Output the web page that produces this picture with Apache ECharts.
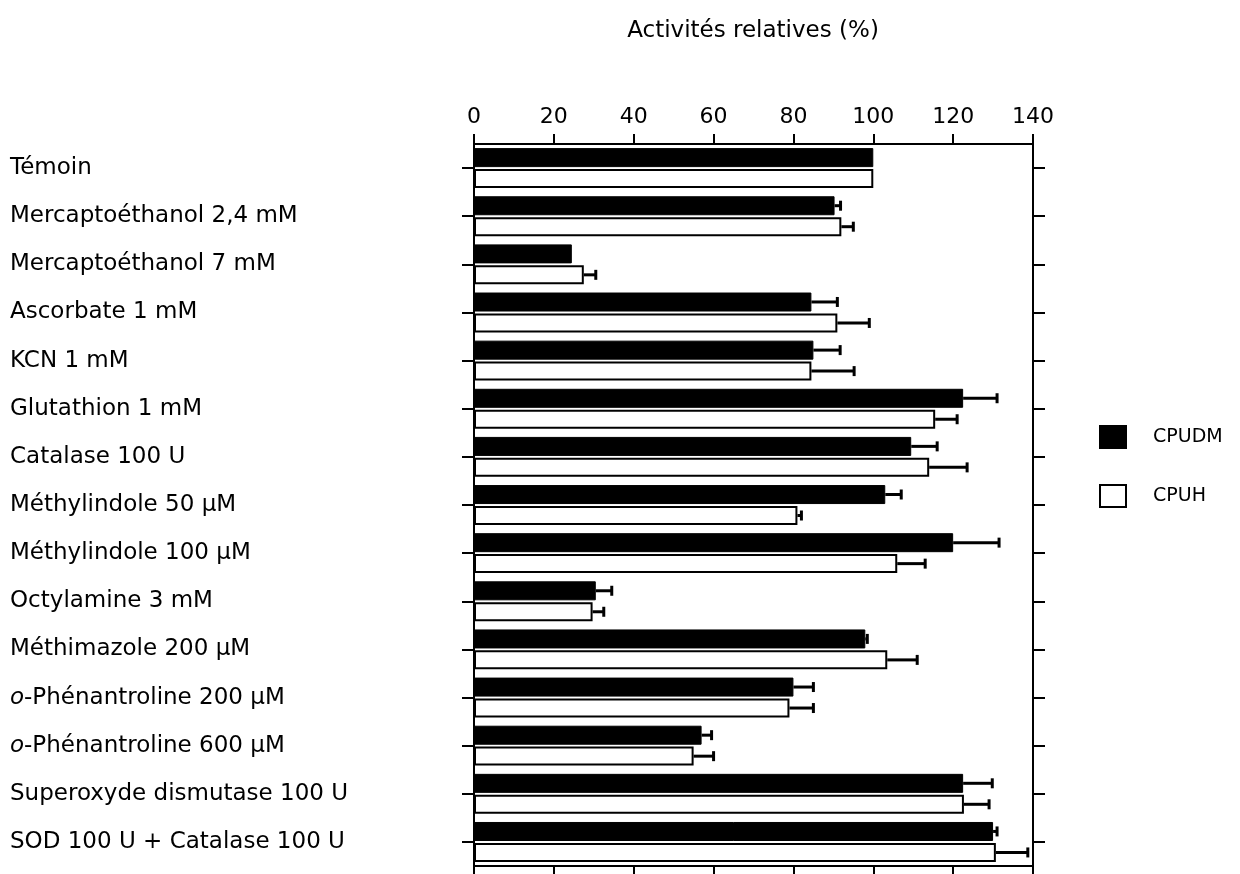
<!DOCTYPE html>
<html>
<head>
<meta charset="utf-8">
<script src="https://cdn.jsdelivr.net/npm/echarts@6/dist/echarts.min.js"></script>
<style>
html,body{margin:0;padding:0;background:#fff;}
#chart{width:1240px;height:874px;}
</style>
</head>
<body>
<div id="chart"></div>
<script>
const categories = [
  'Témoin',
  'Mercaptoéthanol 2,4 mM',
  'Mercaptoéthanol 7 mM',
  'Ascorbate 1 mM',
  'KCN 1 mM',
  'Glutathion 1 mM',
  'Catalase 100 U',
  'Méthylindole 50 µM',
  'Méthylindole 100 µM',
  'Octylamine 3 mM',
  'Méthimazole 200 µM',
  'o-Phénantroline 200 µM',
  'o-Phénantroline 600 µM',
  'Superoxyde dismutase 100 U',
  'SOD 100 U + Catalase 100 U'
];
const cpudm    = [100, 90.3, 24.5, 84.5, 85, 122.5, 109.5, 103, 120, 30.5, 98, 80, 57, 122.5, 130];
const cpudmErr = [0, 1.5, 0, 6.5, 6.7, 8.5, 6.5, 4, 11.5, 4, 0.5, 5, 2.5, 7.3, 1];
const cpuh     = [100, 92, 27.5, 91, 84.5, 115.5, 114, 81, 106, 29.7, 103.5, 79, 55, 122.7, 130.7];
const cpuhErr  = [0, 3, 3, 8, 10.7, 5.5, 9.5, 1, 7, 2.8, 7.5, 6, 5, 6.3, 8];
const xTicks = { min: 0, max: 140, interval: 20 };

const FONT = 'DejaVu Sans';
const LABEL_SIZE = 23;
const BAR_W = 19;
const BAR_GAP = 2;
const OFF = (BAR_W + BAR_GAP) / 2;

function errSeries(name, vals, errs, offset) {
  return {
    name: name,
    type: 'custom',
    xAxisIndex: 0,
    yAxisIndex: 0,
    silent: true,
    z: 5,
    data: vals.map((v, i) => [v, i, errs[i]]),
    encode: { x: 0, y: 1 },
    renderItem: function (params, api) {
      const v = api.value(0), idx = api.value(1), e = api.value(2);
      if (!e) return null;
      const p0 = api.coord([v, idx]);
      const p1 = api.coord([v + e, idx]);
      const y = p0[1] + offset;
      const st = { stroke: '#000', lineWidth: 3 };
      return {
        type: 'group',
        children: [
          { type: 'line', shape: { x1: p0[0], y1: y, x2: p1[0], y2: y }, style: st },
          { type: 'line', shape: { x1: p1[0], y1: y - 5, x2: p1[0], y2: y + 5 }, style: st }
        ]
      };
    }
  };
}

const chart = echarts.init(document.getElementById('chart'));
chart.setOption({
  animation: false,
  backgroundColor: '#fff',
  title: {
    text: 'Activités relatives (%)',
    left: 748,
    top: 15,
    textAlign: 'center',
    textStyle: { fontFamily: FONT, fontSize: 23, fontWeight: 'normal', color: '#000' }
  },
  legend: {
    data: ['CPUDM', 'CPUH'],
    orient: 'vertical',
    left: 1094,
    top: 420,
    itemWidth: 26,
    itemHeight: 22,
    itemGap: 35,
    icon: 'rect',
    textStyle: { fontFamily: FONT, fontSize: 19, color: '#000', padding: [0, 0, 0, 22] }
  },
  grid: { left: 474, right: 207, top: 144, bottom: 8, containLabel: false },
  xAxis: [
    {
      type: 'value', position: 'top', min: xTicks.min, max: xTicks.max, interval: xTicks.interval,
      axisLine: { show: true, lineStyle: { color: '#000', width: 2 } },
      axisTick: { show: true, inside: false, length: 10, lineStyle: { color: '#000', width: 2 } },
      axisLabel: { margin: 16, fontFamily: FONT, fontSize: 22, color: '#000' },
      splitLine: { show: false }
    },
    {
      type: 'value', position: 'bottom', min: xTicks.min, max: xTicks.max, interval: xTicks.interval,
      axisLine: { show: true, lineStyle: { color: '#000', width: 2 } },
      axisTick: { show: true, inside: false, length: 12, lineStyle: { color: '#000', width: 2 } },
      axisLabel: { show: false },
      splitLine: { show: false }
    }
  ],
  yAxis: [
    {
      type: 'category', data: categories, inverse: true, position: 'left',
      axisLine: { show: true, onZero: false, lineStyle: { color: '#000', width: 2 } },
      axisTick: { show: true, alignWithLabel: true, length: 12, lineStyle: { color: '#000', width: 2 } },
      axisLabel: {
        align: 'left', margin: 464, fontFamily: FONT, fontSize: LABEL_SIZE, color: '#000',
        formatter: function (v) {
          return v.indexOf('o-') === 0 ? '{i|o}-' + v.slice(2) : v;
        },
        rich: {
          i: { fontStyle: 'italic', fontFamily: FONT, fontSize: LABEL_SIZE, color: '#000' }
        }
      }
    },
    {
      type: 'category', data: categories, inverse: true, position: 'right',
      axisLine: { show: true, onZero: false, lineStyle: { color: '#000', width: 2 } },
      axisTick: { show: true, alignWithLabel: true, length: 12, lineStyle: { color: '#000', width: 2 } },
      axisLabel: { show: false }
    }
  ],
  series: [
    {
      name: 'CPUDM', type: 'bar', data: cpudm, xAxisIndex: 0, yAxisIndex: 0,
      barWidth: BAR_W, barGap: '10%',
      itemStyle: { color: '#000', borderColor: '#000', borderWidth: 1 }
    },
    {
      name: 'CPUH', type: 'bar', data: cpuh, xAxisIndex: 0, yAxisIndex: 0,
      barWidth: BAR_W, barGap: '10%',
      itemStyle: { color: '#fff', borderColor: '#000', borderWidth: 2 }
    },
    errSeries('errDM', cpudm, cpudmErr, -OFF),
    errSeries('errH', cpuh, cpuhErr, OFF)
  ]
});
</script>
</body>
</html>
